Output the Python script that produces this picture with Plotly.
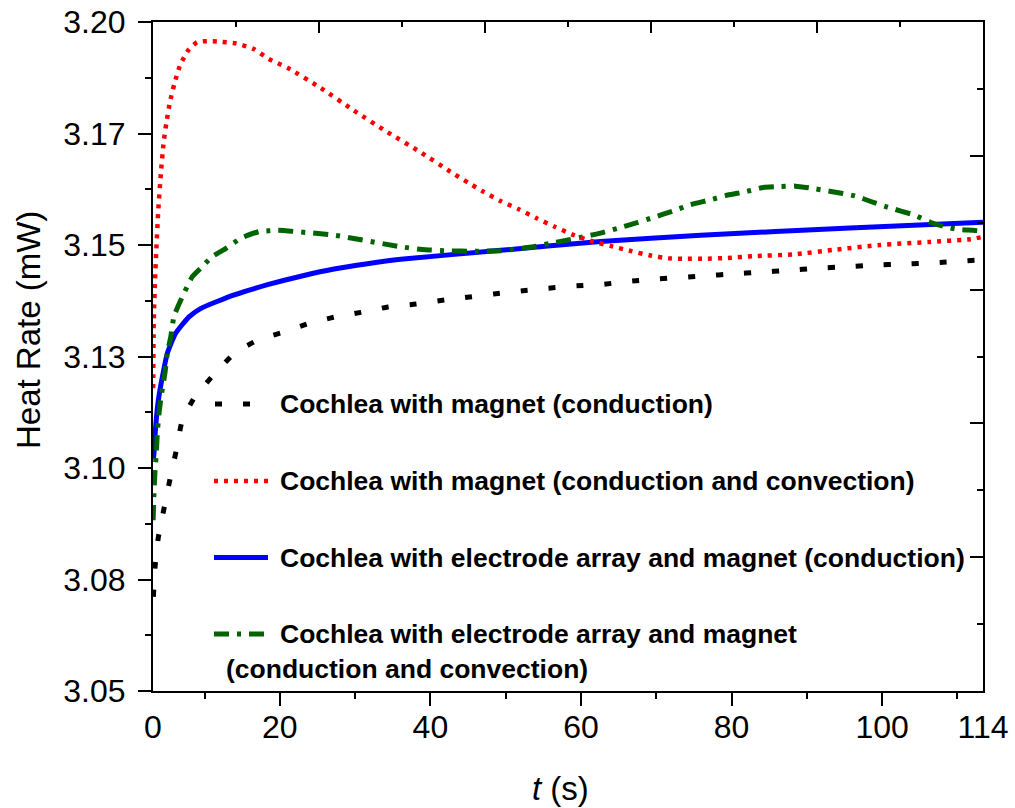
import plotly.graph_objects as go

# ---------------- data ----------------
# x values are in axis units; the left edge of the axis (labelled "0") sits at 3.15
t_black = [3.2, 3.42, 3.86, 4.61, 5.41, 6.25, 7.04, 8.72, 11.38, 14.03, 17.22, 20.55, 23.87,
           27.2, 30.78, 34.36, 37.74, 41.14, 44.55, 48.4, 52.0, 55.6, 59.05, 62.95, 66.6,
           70.3, 76.5, 80.06, 83.7, 87.5, 91.4, 95.0, 98.85, 102.8, 106.8, 110.8, 113.4]
hr_black = [3.0711, 3.0778, 3.0845, 3.0909, 3.0975, 3.1040, 3.1107, 3.1160, 3.1212, 3.1258,
            3.1288, 3.1305, 3.1324, 3.1338, 3.1349, 3.1361, 3.1367, 3.1375, 3.1382, 3.1390,
            3.1397, 3.1403, 3.1408, 3.1412, 3.1419, 3.1424, 3.1431, 3.1435, 3.1439, 3.1443,
            3.1448, 3.1451, 3.1455, 3.1457, 3.1460, 3.1464, 3.1467]

t_red = [3.17, 3.25, 3.42, 3.59, 3.85, 4.21, 4.57, 4.92, 5.37, 5.98, 6.77, 7.93, 9.03, 10.35,
         11.68, 14.2, 16.59, 18.54, 21.05, 25.43, 29.8, 34.3, 38.5, 42.69, 45.0, 47.1, 49.4,
         51.75, 54.1, 56.5, 58.8, 61.35, 63.9, 66.5, 69.05, 71.65, 73.9, 76.5, 79.5, 82.9,
         88.2, 93.5, 99.7, 106.4, 111.7, 113.4]
hr_red = [3.1179, 3.1331, 3.1421, 3.1489, 3.1578, 3.1664, 3.1731, 3.1773, 3.1818, 3.1861,
          3.1904, 3.1939, 3.1955, 3.1957, 3.1956, 3.1952, 3.1939, 3.1917, 3.1897, 3.1852,
          3.1802, 3.1753, 3.1710, 3.1664, 3.1640, 3.1619, 3.1598, 3.1580, 3.1560, 3.1541,
          3.1524, 3.1509, 3.1498, 3.1487, 3.1477, 3.1470, 3.1469, 3.1469, 3.1471, 3.1475,
          3.1479, 3.1489, 3.1500, 3.1507, 3.1513, 3.1518]

t_blue = [3.2, 3.28, 3.5, 3.86, 4.39, 5.05, 6.16, 7.93, 9.52, 13.94, 18.37, 22.79, 27.2,
          31.64, 36.06, 49.3, 62.6, 75.9, 95.7, 113.4]
hr_blue = [3.1020, 3.1033, 3.1092, 3.1152, 3.1204, 3.1257, 3.1302, 3.1339, 3.1358, 3.1388,
           3.1411, 3.1430, 3.1446, 3.1458, 3.1468, 3.1488, 3.1508, 3.1522, 3.1538, 3.1551]

t_green = [3.17, 3.28, 3.42, 3.59, 3.72, 3.95, 4.3, 4.74, 5.05, 5.5, 5.94, 6.83, 8.37, 9.48,
           11.02, 12.8, 14.79, 17.22, 18.54, 19.7, 27.2, 36.06, 38.9, 42.2, 46.0, 49.3, 51.5,
           53.7, 55.96, 57.95, 59.9, 62.45, 64.8, 67.45, 69.66, 72.2, 74.5, 77.1, 79.5, 81.7,
           84.2, 86.4, 88.5, 90.3, 93.2, 96.4, 98.6, 100.7, 104.3, 106.4, 108.1, 110.1, 112.1,
           113.4]
hr_green = [3.0883, 3.0943, 3.0995, 3.1033, 3.1078, 3.1123, 3.1168, 3.1213, 3.1258, 3.1293,
            3.1340, 3.1376, 3.1429, 3.1448, 3.1474, 3.1492, 3.1515, 3.1530, 3.1532, 3.1533,
            3.1522, 3.1496, 3.1490, 3.1487, 3.1486, 3.1487, 3.1491, 3.1496, 3.1504, 3.1510,
            3.1517, 3.1526, 3.1537, 3.1550, 3.1562, 3.1576, 3.1590, 3.1601, 3.1612, 3.1619,
            3.1629, 3.1631, 3.1632, 3.1628, 3.1620, 3.1610, 3.1597, 3.1585, 3.1567, 3.1551,
            3.1542, 3.1535, 3.1533, 3.1531]

names = ["Cochlea with magnet (conduction)",
         "Cochlea with magnet (conduction and convection)",
         "Cochlea with electrode array and magnet (conduction)",
         "Cochlea with electrode array and magnet"]
name4_line2 = "(conduction and convection)"

x_range = [3.15, 113.4]
x_major = [20, 40, 60, 80, 100]
x_minor = [10, 30, 50, 70, 90, 110]
x_label_vals = [3.15, 20, 40, 60, 80, 100, 113.4]
x_label_text = ["0", "20", "40", "60", "80", "100", "114"]

y_range = [3.05, 3.20]
y_major = [3.05, 3.075, 3.10, 3.125, 3.15, 3.175, 3.20]
y_major_text = ["3.05", "3.08", "3.10", "3.13", "3.15", "3.17", "3.20"]
y_minor = [3.0625, 3.0875, 3.1125, 3.1375, 3.1625, 3.1875]

# ---------------- styles ----------------
FONT = "Liberation Sans, Arial, sans-serif"
styles = {
    "black": dict(color="#000000", width=5, dash="7px,21px"),
    "red": dict(color="#FF0000", width=4.5, dash="4px,6px"),
    "blue": dict(color="#0000FF", width=5),
    "green": dict(color="#006400", width=5, dash="15px,8px,4px,8px"),
}

W, H = 1015, 808
L, R, T, B = 153, 983, 22, 691

fig = go.Figure()
for tt, vv, st, nm in [(t_black, hr_black, "black", names[0]),
                       (t_blue, hr_blue, "blue", names[2]),
                       (t_green, hr_green, "green", names[3]),
                       (t_red, hr_red, "red", names[1])]:
    fig.add_trace(go.Scatter(x=tt, y=vv, mode="lines",
                             line=dict(shape="spline", smoothing=0.5, **styles[st]),
                             name=nm, showlegend=False))
# empty traces to attach the extra frame / label axes
fig.add_trace(go.Scatter(x=[], y=[], xaxis="x2", yaxis="y2", showlegend=False,
                         hoverinfo="skip"))
fig.add_trace(go.Scatter(x=[], y=[], xaxis="x3", yaxis="y", showlegend=False,
                         hoverinfo="skip"))


def px_x(px):
    return (px - L) / (R - L)


def px_y(py):
    return (B - py) / (B - T)


axis_common = dict(showgrid=False, zeroline=False, linecolor="black", linewidth=2,
                   tickcolor="black", tickwidth=2, automargin=False,
                   tickfont=dict(family=FONT, size=32, color="black"))
no_line = {k: v for k, v in axis_common.items() if k not in ("linecolor", "linewidth")}
no_font = {k: v for k, v in axis_common.items() if k != "tickfont"}

fig.update_layout(
    width=W, height=H,
    margin=dict(l=L, r=W - R, t=T, b=H - B, pad=0, autoexpand=False),
    paper_bgcolor="white", plot_bgcolor="white",
    showlegend=False,
    xaxis=dict(range=x_range, showline=True, ticks="outside", ticklen=13,
               tickmode="array", tickvals=x_major, showticklabels=False,
               minor=dict(tickmode="array", tickvals=x_minor, ticks="outside",
                          ticklen=6, tickwidth=2, tickcolor="black"),
               **axis_common),
    xaxis3=dict(range=x_range, overlaying="x", anchor="y", side="bottom",
                showline=False, ticks="", tickmode="array", tickvals=x_label_vals,
                ticktext=x_label_text, ticklabelstandoff=14, **no_line),
    yaxis=dict(range=y_range, showline=True, ticks="outside", ticklen=13,
               tickmode="array", tickvals=y_major, ticktext=y_major_text,
               ticklabelstandoff=6,
               minor=dict(tickmode="array", tickvals=y_minor, ticks="outside",
                          ticklen=6, tickwidth=2, tickcolor="black"),
               **axis_common),
    xaxis2=dict(range=[0, 5], overlaying="x", anchor="y2", side="top", showline=True,
                ticks="inside", ticklen=11, tickmode="linear", tick0=0, dtick=1,
                showticklabels=False,
                minor=dict(ticks="inside", ticklen=5, dtick=0.5, tick0=0, tickwidth=2,
                           tickcolor="black"),
                **no_font),
    yaxis2=dict(range=[0, 5], overlaying="y", anchor="x2", side="right", showline=True,
                ticks="inside", ticklen=13, tickmode="linear", tick0=0, dtick=1,
                showticklabels=False,
                minor=dict(ticks="inside", ticklen=6, dtick=0.5, tick0=0, tickwidth=2,
                           tickcolor="black"),
                **no_font),
)

# axis titles
fig.add_annotation(text="Heat Rate (mW)", textangle=-90, xref="paper", yref="paper",
                   x=px_x(28), y=px_y(330), xanchor="center", yanchor="middle",
                   showarrow=False, font=dict(family=FONT, size=33, color="black"))
fig.add_annotation(text="<i>t</i> (s)", xref="paper", yref="paper",
                   x=px_x(560), y=px_y(788), xanchor="center", yanchor="middle",
                   showarrow=False, font=dict(family=FONT, size=33, color="black"))

# legend (drawn inside the plot area)
leg_rows = [404, 481, 557.5, 634]
leg_styles = [styles["black"], styles["red"], styles["blue"], styles["green"]]
leg_x0 = [215, 214, 214, 214]
for yy, st, nm, x0 in zip(leg_rows, leg_styles, names, leg_x0):
    fig.add_shape(type="line", xref="paper", yref="paper", x0=px_x(x0), x1=px_x(268),
                  y0=px_y(yy), y1=px_y(yy), line=st)
    fig.add_annotation(text="<b>%s</b>" % nm, xref="paper", yref="paper",
                       x=px_x(278), y=px_y(yy), xanchor="left", yanchor="middle",
                       showarrow=False, font=dict(family=FONT, size=26.5, color="black"))
fig.add_annotation(text="<b>%s</b>" % name4_line2, xref="paper", yref="paper",
                   x=px_x(224), y=px_y(669), xanchor="left", yanchor="middle",
                   showarrow=False, font=dict(family=FONT, size=26.5, color="black"))

fig.write_html("out.html",
               config={"displayModeBar": False},
               post_script="document.body.style.margin='0';"
                           "document.body.style.overflow='hidden';")
